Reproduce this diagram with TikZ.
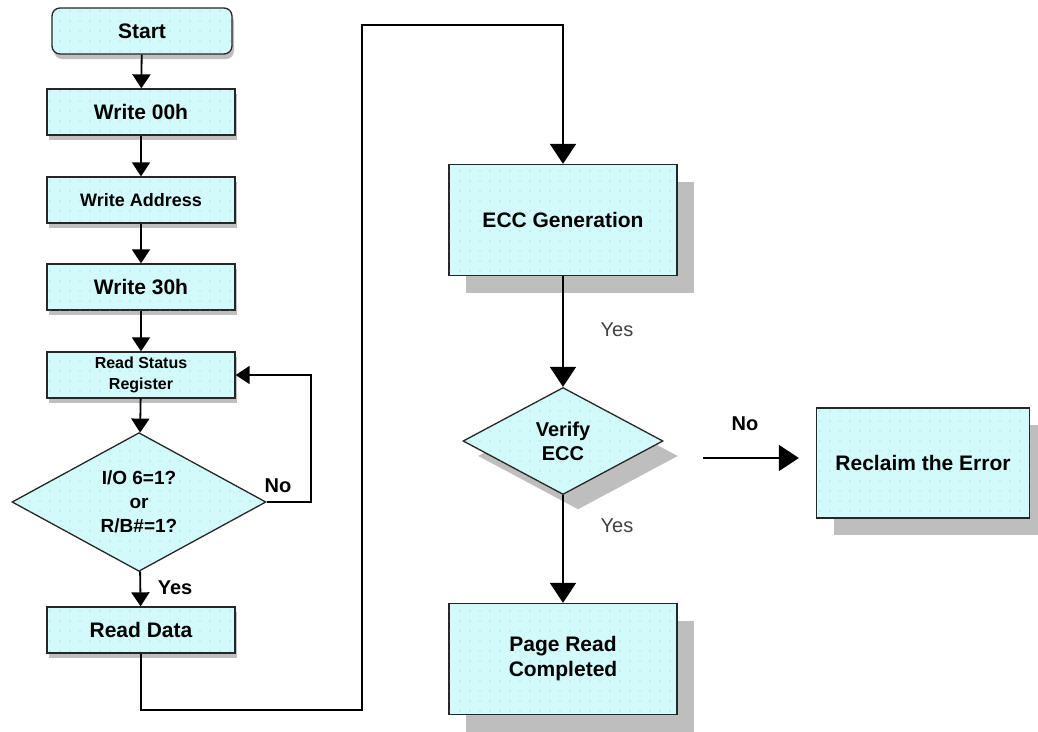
\documentclass[tikz,border=0pt]{standalone}
\usepackage{fontspec}
\setmainfont{Liberation Sans}
\usetikzlibrary{shapes.geometric,arrows.meta,shadows,patterns.meta}
\definecolor{boxfill}{HTML}{D2FAFA}
\definecolor{dotcol}{HTML}{9CC4CC}
\definecolor{shadegray}{HTML}{BEBEBE}
\tikzset{
	dotfill/.style={fill=boxfill, postaction={pattern={Dots[distance=10pt,radius=0.7pt]}, pattern color=dotcol}},
	softshadow/.style={drop shadow={shadow xshift=2pt, shadow yshift=-5pt, opacity=0.25, fill=black}},
	hardshadow/.style={drop shadow={shadow xshift=17pt, shadow yshift=-17pt, opacity=1, fill=shadegray}},
	leftbox/.style={draw=black!85, line width=1.3pt, dotfill, softshadow, minimum width=188pt, minimum height=46pt, inner sep=0pt, align=center, font=\bfseries\fontsize{21}{24}\selectfont},
	rightbox/.style={draw=black!85, line width=1.3pt, dotfill, hardshadow, minimum width=228pt, minimum height=111pt, inner sep=0pt, align=center, font=\bfseries\fontsize{21}{25}\selectfont},
	arrL/.style={line width=1.8pt, -{Triangle[width=18pt,length=14pt]}},
	arrR/.style={line width=1.8pt, -{Triangle[width=26pt,length=20pt]}},
	lbl/.style={font=\bfseries\fontsize{20}{24}\selectfont},
	lblR/.style={text=black!75, font=\fontsize{20}{24}\selectfont}
}
\begin{document}
\begin{tikzpicture}[x=1pt,y=-1pt]
	\useasboundingbox (0,0) rectangle (1038,731);
	\node[leftbox, rounded corners=8pt, minimum width=180pt] (start) at (142,31) {Start};
	\node[leftbox] (w00) at (141,112) {Write 00h};
	\node[leftbox, font=\bfseries\fontsize{18}{21}\selectfont] (wadr) at (141,200) {Write Address};
	\node[leftbox] (w30) at (141,287) {Write 30h};
	\node[leftbox, font=\bfseries\fontsize{16}{21}\selectfont] (rss) at (141,375) {Read Status\\Register};
	\node[draw=black!85, line width=1.3pt, dotfill, diamond, minimum width=254pt, minimum height=128pt, inner sep=0pt, align=center, font=\bfseries\fontsize{19}{24}\selectfont] (dec) at (139,502) {I/O 6=1?\\or\\R/B\#=1?};
	\node[leftbox] (rd) at (141,630) {Read Data};
	\node[lbl] (no1) at (278,486) {No};
	\node[lbl] (yes1) at (175,588) {Yes};
	\coordinate (turn1) at (362,710);
	\coordinate (turn2) at (362,25);
	
	\node[rightbox] (ecc) at (563,220) {ECC Generation};
	\node[draw=black!85, line width=1.3pt, dotfill, diamond, minimum width=200pt, minimum height=107pt, inner sep=0pt, align=center, drop shadow={shadow xshift=15pt, shadow yshift=-15pt, opacity=1, fill=shadegray}, font=\bfseries\fontsize{20}{24}\selectfont] (ver) at (563,441) {Verify\\ECC};
	\node[rightbox] (page) at (563,659) {Page Read\\Completed};
	\node[rightbox, minimum width=213pt, minimum height=110pt] (rec) at (923,463) {Reclaim the Error};
	\node[lblR] (yes2) at (617,330) {Yes};
	\node[lblR] (yes3) at (617,526) {Yes};
	\node[lbl] (no2) at (745,424) {No};
	\coordinate (nostart) at (703,458);
	
	\draw[arrL] (start) -- (w00);
	\draw[arrL] (w00) -- (wadr);
	\draw[arrL] (wadr) -- (w30);
	\draw[arrL] (w30) -- (rss);
	\draw[arrL] (rss) -- (dec);
	\draw[arrL] (dec) -- (rd);
	\draw[arrL] (dec.east) -- ++(44,0) |- (rss.east);
	\draw[arrR] (rd.south) |- (turn1) -- (turn2) -| (ecc.north);
	\draw[arrR] (ecc) -- (ver);
	\draw[arrR] (ver) -- (page);
	\draw[arrR, shorten >=17pt] (nostart) -- (nostart -| rec.west);
\end{tikzpicture}
\end{document}
